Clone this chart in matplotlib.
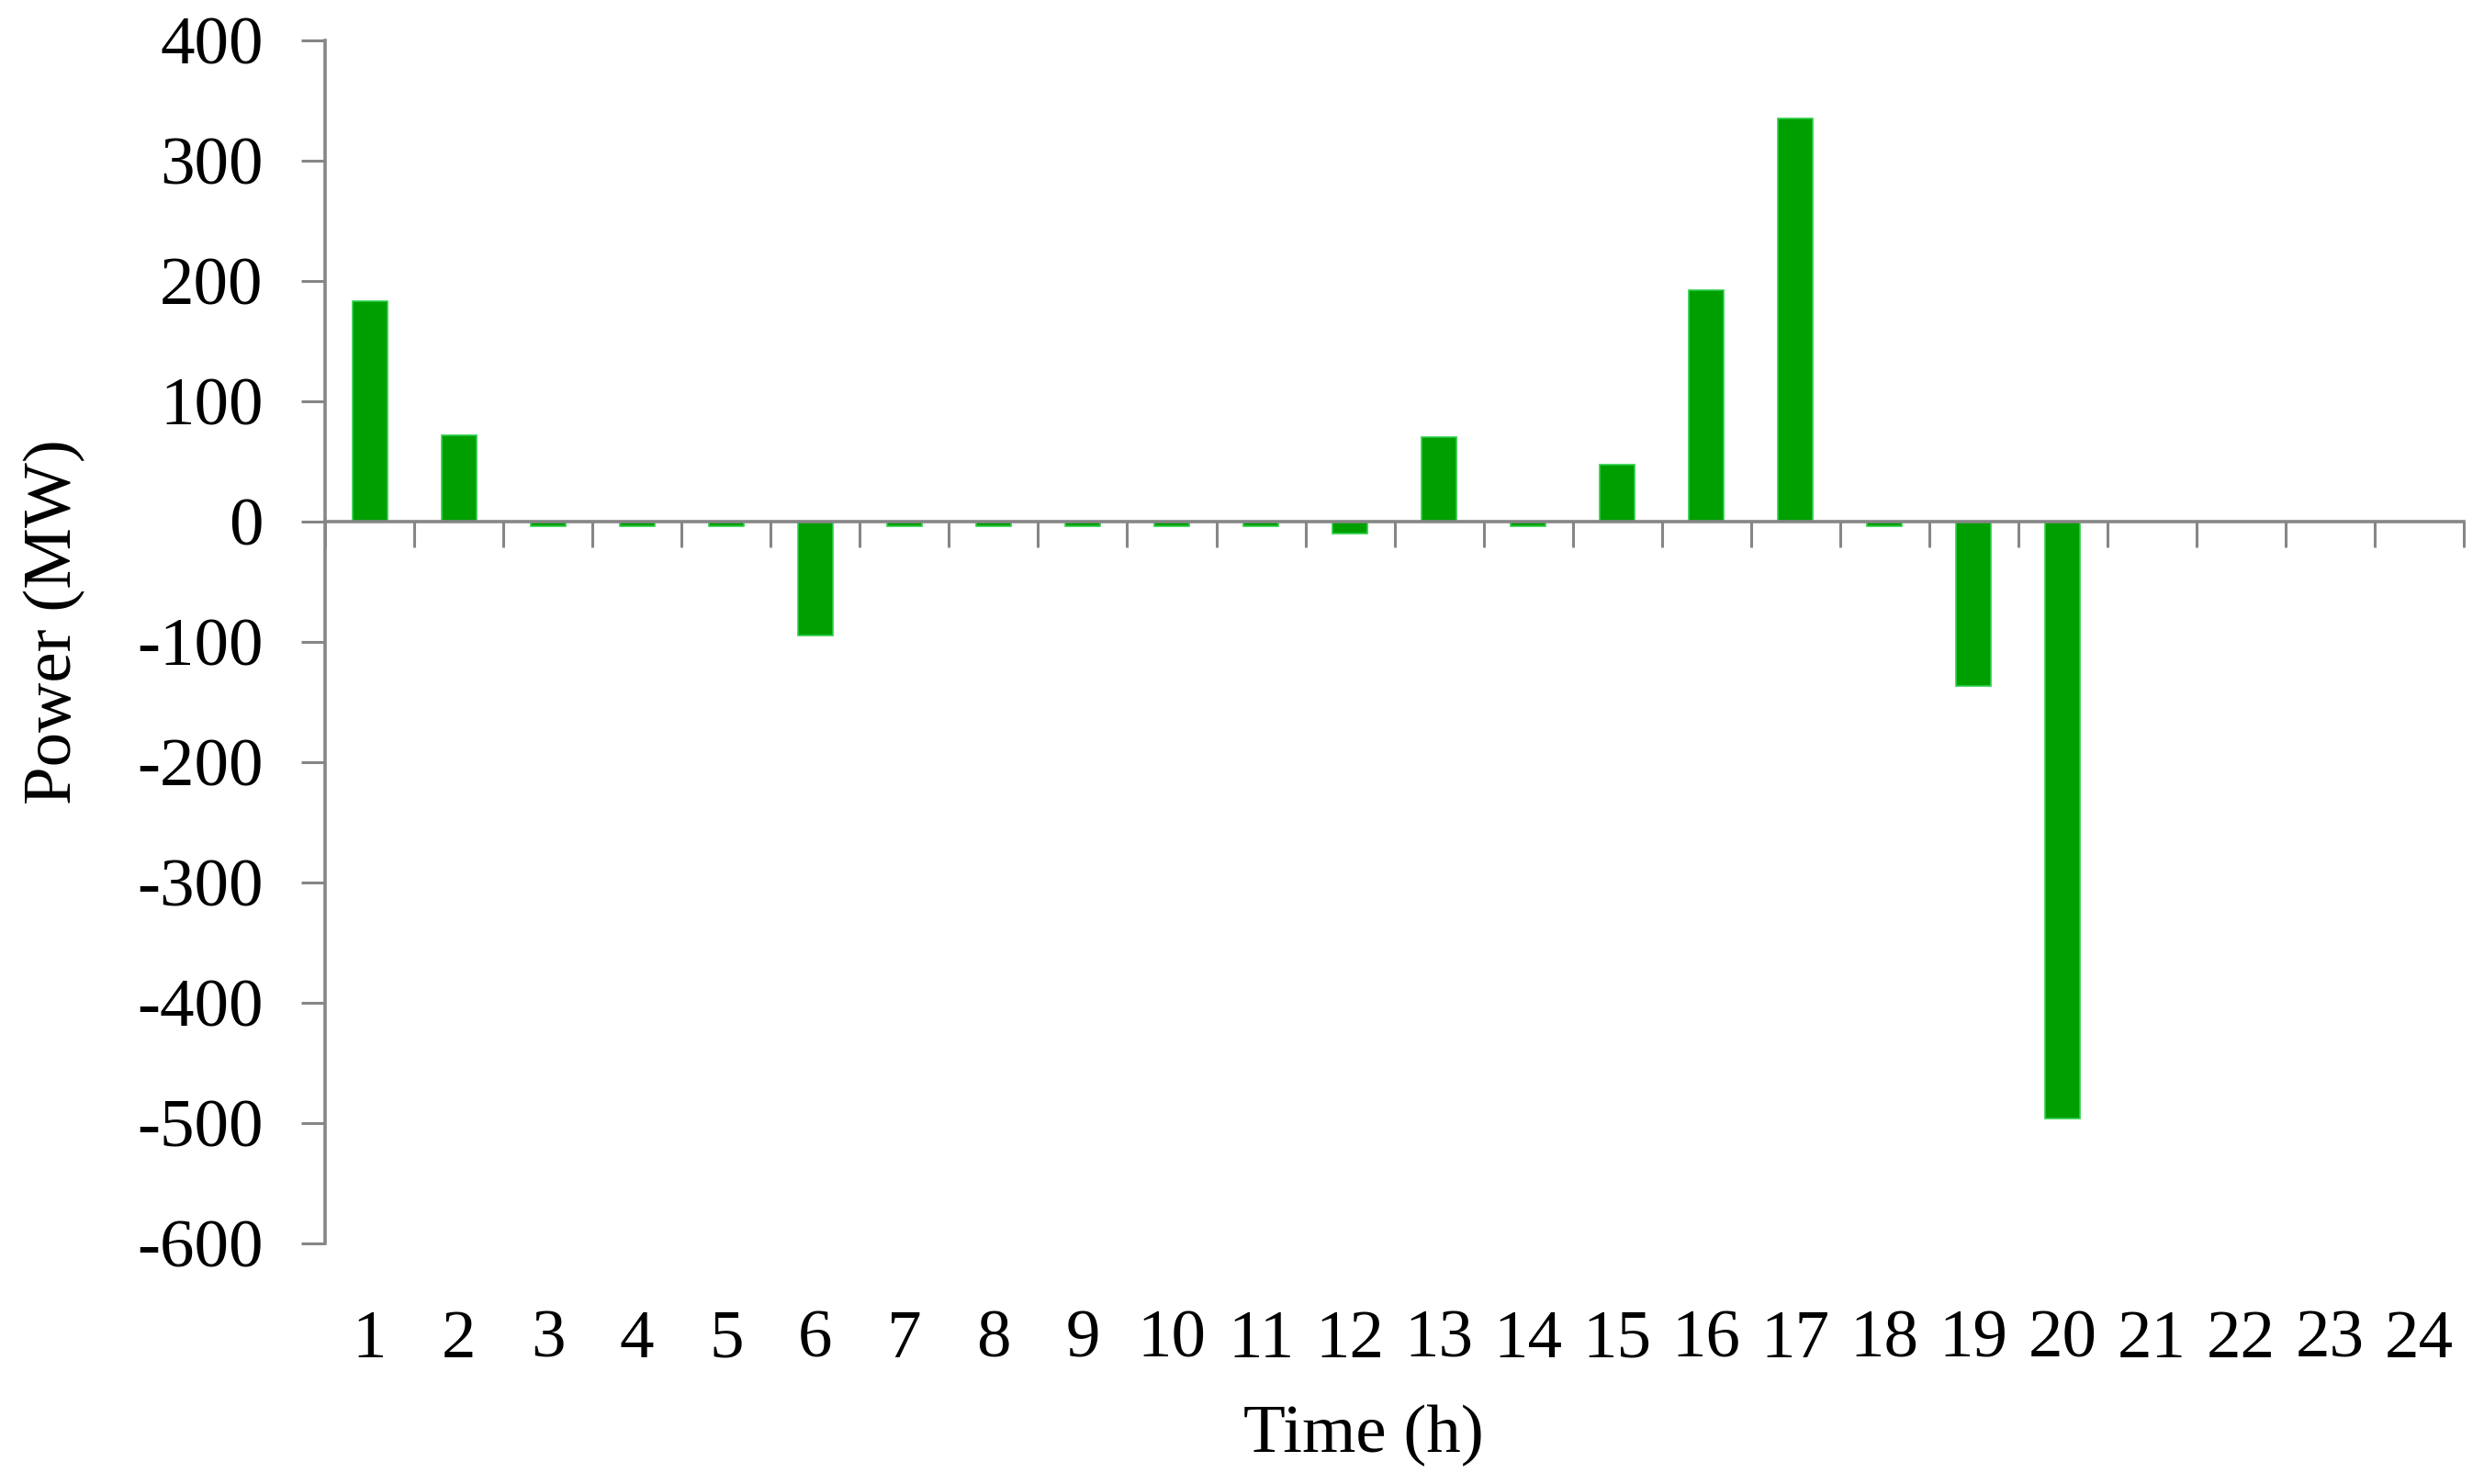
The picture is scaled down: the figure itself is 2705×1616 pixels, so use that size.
import numpy as np
import matplotlib
matplotlib.use("Agg")
import matplotlib.pyplot as plt

plt.rcParams["font.family"] = ["Liberation Serif", "DejaVu Serif"]

# ---- data ----
hours = list(range(1, 25))
power_mw = [183, 72, -4, -4, -4, -95, -4, -4, -4, -4, -4, -10,
            70, -4, 47, 192, 335, -4, -137, -496, 0, 0, 0, 0]
y_ticks = [400, 300, 200, 100, 0, -100, -200, -300, -400, -500, -600]

BAR_COLOR = "#009F00"
EDGE_COLOR = "#2ED04A"
AXIS_GRAY = "#868686"
FS = 54

fig = plt.figure(figsize=(27.05, 16.16), dpi=100)
ax = fig.add_axes([0.1309, 0.1621, 0.8610, 0.8107])

ax.bar(hours, power_mw, width=0.39, color=BAR_COLOR,
       edgecolor=EDGE_COLOR, linewidth=1.2, zorder=3)

ax.set_xlim(0.5, 24.5)
ax.set_ylim(-600, 400)

# zero line as the x axis, ticks at category boundaries pointing down
for s in ("top", "right"):
    ax.spines[s].set_visible(False)
ax.spines["bottom"].set_position(("data", 0))
ax.spines["bottom"].set_color(AXIS_GRAY)
ax.spines["bottom"].set_linewidth(2.6)
ax.spines["bottom"].set_zorder(4)
ax.spines["left"].set_color(AXIS_GRAY)
ax.spines["left"].set_linewidth(2.6)

ax.set_xticks(np.arange(0.5, 25, 1.0))
ax.tick_params(axis="x", direction="out", length=20, width=2.2,
               color=AXIS_GRAY, labelbottom=False)

ax.set_yticks(y_ticks)
ax.set_yticklabels([str(v) for v in y_ticks])
ax.tick_params(axis="y", direction="out", length=18.5, width=2.2,
               color=AXIS_GRAY, labelsize=FS, pad=30)

# hour labels sit below the plot, not on the zero line
sec = ax.secondary_xaxis("bottom")
sec.set_xticks(hours)
sec.set_xticklabels([str(h) for h in hours])
sec.tick_params(axis="x", length=0, labelsize=FS, pad=52)
sec.spines["bottom"].set_visible(False)
sec.set_xlabel("Time (h)", fontsize=FS, labelpad=26)
sec.xaxis.label.set_x(0.4854)

ax.set_ylabel("Power (MW)", fontsize=FS, labelpad=40)
ax.yaxis.label.set_y(0.517)

fig.savefig("out.png", dpi=100)
